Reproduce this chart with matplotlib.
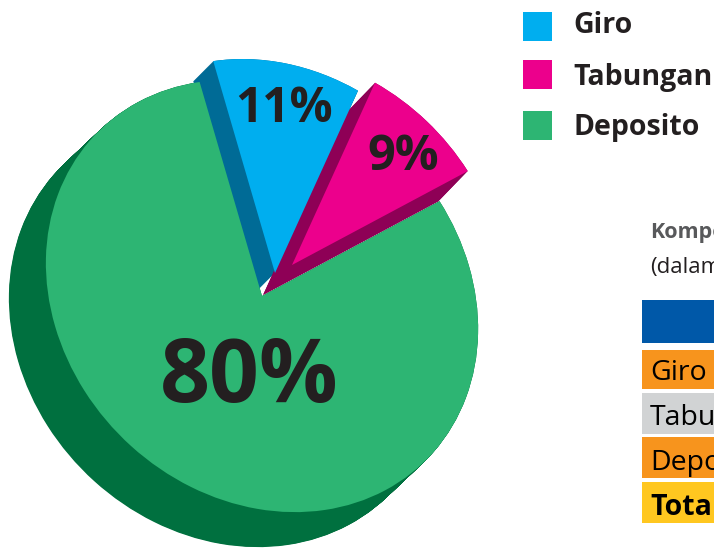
import numpy as np
import matplotlib
matplotlib.use("Agg")
import matplotlib.pyplot as plt
from matplotlib.patches import Wedge, Rectangle, Polygon
from matplotlib.transforms import Affine2D

plt.rcParams['font.family'] = ['Open Sans', 'DejaVu Sans']

# Composition of third-party funds, in percent
categories = ["Giro", "Tabungan", "Deposito"]
shares = [11, 9, 80]
share_labels = ["11%", "9%", "80%"]
table_rows = ["Giro", "Tabungan", "Deposito", "Total"]
table_title = "Komposisi"
table_unit = "(dalam"

top_colors = ["#00AEEF", "#EC008C", "#2DB573"]
side_colors = ["#006B96", "#8E0056", "#00703F"]
row_colors = ["#F7941D", "#D1D3D4", "#F7941D", "#FFC720"]
HEADER_BLUE = "#0058A8"
TEXT_DARK = "#231F20"

W, H = 714, 548
START_ANGLE = 102.4

# The pie is a unit circle tilted in space: it projects to an ellipse whose
# long axis runs from upper left to lower right
SEMI_MAJOR, SEMI_MINOR = 232, 199
TILT_DEG = 135

# Per-slice geometry in pixels from the top-left corner:
# apex x, apex y, radius scale, extrusion dx, extrusion dy
slice_geometry = [
    (275, 273, 0.99, -20, 20),
    (292, 265, 0.99, -29, 30),
    (262, 296, 1.00, -37, 35),
]
# Stacking of the extruded walls and top faces
side_order = [1.2, 1.8, 1.0]
top_order = [2.0, 3.0, 1.5]

label_positions = [(284, 110), (403, 158), (249, 379)]
label_sizes = [34.5, 35, 63]


def flip(y):
    return H - y


fig = plt.figure(figsize=(W / 100, H / 100), dpi=100)
ax = fig.add_axes([0, 0, 1, 1])
ax.set_xlim(0, W)
ax.set_ylim(0, H)
ax.axis("off")

# Slice angles run clockwise from the start angle in proportion to the shares
spans = np.array(shares) / sum(shares) * 360
ends = START_ANGLE - np.cumsum(spans)
starts = ends + spans


def tilted(x, y, scale):
    return (Affine2D()
            .rotate_deg(-TILT_DEG)
            .scale(SEMI_MAJOR * scale, SEMI_MINOR * scale)
            .rotate_deg(TILT_DEG)
            .translate(x, flip(y))) + ax.transData


def draw_slice(index):
    x, y, scale, dx, dy = slice_geometry[index]
    theta1, theta2 = ends[index], starts[index]
    steps = int(max(abs(dx), abs(dy))) * 2
    # Side wall: the top face swept along the extrusion direction
    for t in np.linspace(1, 0, steps):
        ax.add_patch(Wedge((0, 0), 1, theta1, theta2,
                           facecolor=side_colors[index], edgecolor="none",
                           transform=tilted(x + dx * t, y + dy * t, scale),
                           zorder=side_order[index]))
    ax.add_patch(Wedge((0, 0), 1, theta1, theta2,
                       facecolor=top_colors[index], edgecolor="none",
                       transform=tilted(x, y, scale),
                       zorder=top_order[index]))


for i in range(len(shares)):
    draw_slice(i)

# Wall closing the notch where the two pulled-out slices meet at the centre
bx, by = slice_geometry[0][:2]
px, py, _, pdx, pdy = slice_geometry[1]
ax.add_patch(Polygon([(bx, flip(by)), (px, flip(py)),
                      (px + pdx, flip(py + pdy))],
                     closed=True, facecolor=side_colors[1], edgecolor="none",
                     zorder=side_order[1]))

for text, (lx, ly), size in zip(share_labels, label_positions, label_sizes):
    ax.text(lx, flip(ly), text, fontsize=size, fontweight="bold",
            color=TEXT_DARK, ha="center", va="center", zorder=5)

# Legend
legend_tops = [12, 60, 111]
legend_baselines = [33, 85, 135]
for name, color, top, base in zip(categories, top_colors, legend_tops, legend_baselines):
    ax.add_patch(Rectangle((523, flip(top + 29)), 29, 29, facecolor=color,
                           edgecolor="none"))
    ax.text(573, flip(base), name, fontsize=20.5, fontweight="bold",
            color=TEXT_DARK, ha="left", va="baseline")

# Table, running off the right-hand edge of the page
ax.text(650, flip(238), table_title, fontsize=15.5, fontweight="bold",
        color="#58595B", ha="left", va="baseline")
ax.text(650, flip(273), table_unit, fontsize=16, color=TEXT_DARK,
        ha="left", va="baseline")

ax.add_patch(Rectangle((642, flip(343)), W - 642, 43, facecolor=HEADER_BLUE,
                       edgecolor="none"))
row_bounds = [(350, 389), (393, 434), (437, 478), (482, 523)]
row_baselines = [380, 425, 470, 515]
for name, color, (y0, y1), base in zip(table_rows, row_colors, row_bounds, row_baselines):
    ax.add_patch(Rectangle((642, flip(y1)), W - 642, y1 - y0, facecolor=color,
                           edgecolor="none"))
    ax.text(650, flip(base), name, fontsize=20.5,
            fontweight="bold" if name == "Total" else "normal",
            color="black", ha="left", va="baseline")

fig.savefig("out.png", dpi=100)
